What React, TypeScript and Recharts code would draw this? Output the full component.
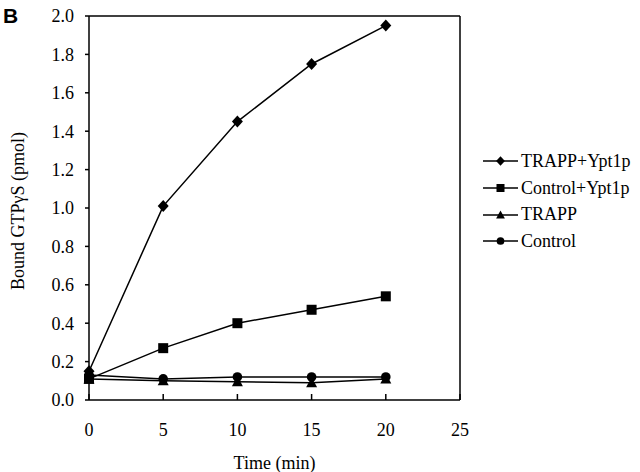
import React from 'react';
import {
  LineChart,
  Line,
  XAxis,
  YAxis,
  ReferenceLine,
} from 'recharts';

const times = [0, 5, 10, 15, 20];
const trappYpt1p = [0.15, 1.01, 1.45, 1.75, 1.95];
const controlYpt1p = [0.11, 0.27, 0.4, 0.47, 0.54];
const trapp = [0.11, 0.1, 0.095, 0.09, 0.11];
const control = [0.13, 0.11, 0.12, 0.12, 0.12];

const xTicks = [0, 5, 10, 15, 20, 25];
const yTicks = [0, 0.2, 0.4, 0.6, 0.8, 1.0, 1.2, 1.4, 1.6, 1.8, 2.0];

const series = [
  { key: 'trappYpt1p', name: 'TRAPP+Ypt1p', shape: 'diamond' },
  { key: 'controlYpt1p', name: 'Control+Ypt1p', shape: 'square' },
  { key: 'trapp', name: 'TRAPP', shape: 'triangle' },
  { key: 'control', name: 'Control', shape: 'circle' },
];

const data = times.map((t, i) => ({
  time: t,
  trappYpt1p: trappYpt1p[i],
  controlYpt1p: controlYpt1p[i],
  trapp: trapp[i],
  control: control[i],
}));

const FONT = '"Liberation Serif", "Times New Roman", serif';

function marker(shape: string, cx: number, cy: number, s = 1, k?: string) {
  if (shape === 'diamond')
    return (
      <polygon
        key={k}
        points={`${cx},${cy - 6 * s} ${cx + 5.5 * s},${cy} ${cx},${cy + 6 * s} ${cx - 5.5 * s},${cy}`}
        fill="#000"
      />
    );
  if (shape === 'square')
    return (
      <rect key={k} x={cx - 5 * s} y={cy - 5 * s} width={10 * s} height={10 * s} fill="#000" />
    );
  if (shape === 'triangle')
    return (
      <polygon
        key={k}
        points={`${cx},${cy - 5.5 * s} ${cx + 5.5 * s},${cy + 4.5 * s} ${cx - 5.5 * s},${cy + 4.5 * s}`}
        fill="#000"
      />
    );
  return <circle key={k} cx={cx} cy={cy} r={4.8 * s} fill="#000" />;
}

const makeDot = (shape: string) => (props: any) =>
  marker(shape, props.cx, props.cy, 1, `${shape}-${props.index}`);

const yLabel = (props: any) => {
  const vb = props.viewBox;
  const cy = vb.y + vb.height / 2 + 3;
  return (
    <text
      x={18}
      y={cy}
      transform={`rotate(-90, 18, ${cy})`}
      textAnchor="middle"
      dominantBaseline="central"
      fill="#000"
      fontSize={18}
      fontFamily={FONT}
    >
      Bound GTPγS (pmol)
    </text>
  );
};

export default function App() {
  return (
    <div
      style={{
        position: 'absolute',
        left: 0,
        top: 0,
        width: 640,
        height: 472,
        background: '#fff',
      }}
    >
      <div
        style={{
          position: 'absolute',
          left: 3,
          top: 4,
          fontFamily: '"Liberation Sans", Arial, sans-serif',
          fontWeight: 'bold',
          fontSize: 21,
        }}
      >
        B
      </div>
      <LineChart
        width={640}
        height={472}
        data={data}
        margin={{ top: 16, right: 180, bottom: 0, left: 0 }}
      >
        <XAxis
          dataKey="time"
          type="number"
          domain={[0, 25]}
          ticks={xTicks}
          height={72}
          tickSize={-6}
          tickMargin={29}
          stroke="#000"
          strokeWidth={1.5}
          tick={{ fill: '#000', fontSize: 18, fontFamily: FONT }}
          label={{
            value: 'Time (min)',
            position: 'insideBottom',
            offset: 3,
            fill: '#000',
            fontSize: 18,
            fontFamily: FONT,
          }}
        />
        <YAxis
          type="number"
          domain={[0, 2]}
          ticks={yTicks}
          width={89}
          tickSize={4}
          tickMargin={11}
          stroke="#000"
          strokeWidth={1.5}
          tickFormatter={(v: number) => v.toFixed(1)}
          tick={{ fill: '#000', fontSize: 18, fontFamily: FONT }}
          label={yLabel}
        />
        <ReferenceLine x={25} stroke="#000" strokeWidth={1.5} />
        <ReferenceLine y={2} stroke="#000" strokeWidth={1.5} />
        {series.map((s) => (
          <Line
            key={s.key}
            dataKey={s.key}
            name={s.name}
            type="linear"
            stroke="#000"
            strokeWidth={1.5}
            dot={makeDot(s.shape)}
            activeDot={false}
            isAnimationActive={false}
          />
        ))}
      </LineChart>
      <div
        style={{
          position: 'absolute',
          left: 483,
          top: 148,
          width: 160,
          fontFamily: FONT,
          fontSize: 18,
          color: '#000',
        }}
      >
        {series.map((s) => (
          <div
            key={s.key}
            style={{ display: 'flex', alignItems: 'center', height: 26.7 }}
          >
            <svg width={36} height={14} style={{ marginRight: 2 }}>
              <line x1={0} y1={7} x2={35} y2={7} stroke="#000" strokeWidth={1.3} />
              {marker(s.shape, 17.5, 7, 0.8)}
            </svg>
            <span>{s.name}</span>
          </div>
        ))}
      </div>
    </div>
  );
}
